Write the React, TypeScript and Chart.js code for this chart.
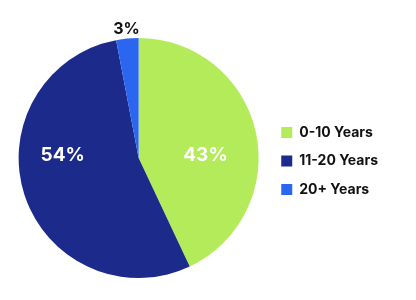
import React, { useEffect, useRef } from "react";
import { Chart, registerables } from "chart.js";

Chart.register(...registerables);

const categories = ["0-10 Years", "11-20 Years", "20+ Years"];
const shares = [43, 54, 3];
const valueLabels = ["43%", "54%", "3%"];
const sliceColors = ["#b3eb5a", "#1c2a8c", "#2b66f0"];

const FONT = "Inter, 'DejaVu Sans', sans-serif";

// style offsets for inside labels (fraction of radius)
const insideOffsets = [
  { dx: 0.557, dy: -0.02 },
  { dx: -0.633, dy: -0.02 },
  { dx: 0, dy: 0 },
];

const sliceLabelPlugin = {
  id: "sliceLabels",
  afterDatasetsDraw(chart: any) {
    const { ctx } = chart;
    const meta = chart.getDatasetMeta(0);
    ctx.save();
    ctx.textAlign = "center";
    ctx.textBaseline = "middle";
    meta.data.forEach((arc: any, i: number) => {
      const p = arc.getProps(["x", "y", "startAngle", "endAngle", "outerRadius"], true);
      const mid = (p.startAngle + p.endAngle) / 2;
      const r = p.outerRadius;
      const value = shares[i];
      if (value < 10) {
        ctx.font = `700 16px ${FONT}`;
        ctx.fillStyle = "#111111";
        ctx.fillText(valueLabels[i], p.x + Math.cos(mid) * r * 1.08, p.y + Math.sin(mid) * r * 1.08);
      } else {
        ctx.font = `700 19px ${FONT}`;
        ctx.fillStyle = "#ffffff";
        ctx.fillText(valueLabels[i], p.x + insideOffsets[i].dx * r, p.y + insideOffsets[i].dy * r);
      }
    });
    ctx.restore();
  },
};

export default function App() {
  const canvasRef = useRef<HTMLCanvasElement | null>(null);

  useEffect(() => {
    if (!canvasRef.current) return;
    const chart = new Chart(canvasRef.current, {
      type: "pie",
      data: {
        labels: categories,
        datasets: [
          {
            data: shares,
            backgroundColor: sliceColors,
            borderWidth: 0,
            hoverOffset: 0,
          },
        ],
      },
      options: {
        animation: false,
        responsive: true,
        maintainAspectRatio: false,
        layout: { padding: { left: 10.5, right: 28, top: 38, bottom: 22 } },
        plugins: {
          tooltip: { enabled: false },
          legend: {
            position: "right",
            align: "center",
            title: { display: true, text: "", font: { size: 5, lineHeight: 1.2 }, padding: 0 },
            labels: {
              boxWidth: 11,
              boxHeight: 11,
              padding: 14.5,
              color: "#111111",
              font: { family: FONT, size: 14, weight: "bold" },
            },
          },
        },
      },
      plugins: [sliceLabelPlugin],
    });
    return () => chart.destroy();
  }, []);

  return (
    <div style={{ position: "absolute", left: 0, top: 0, width: 416, height: 300, background: "#ffffff" }}>
      <canvas ref={canvasRef} />
    </div>
  );
}
